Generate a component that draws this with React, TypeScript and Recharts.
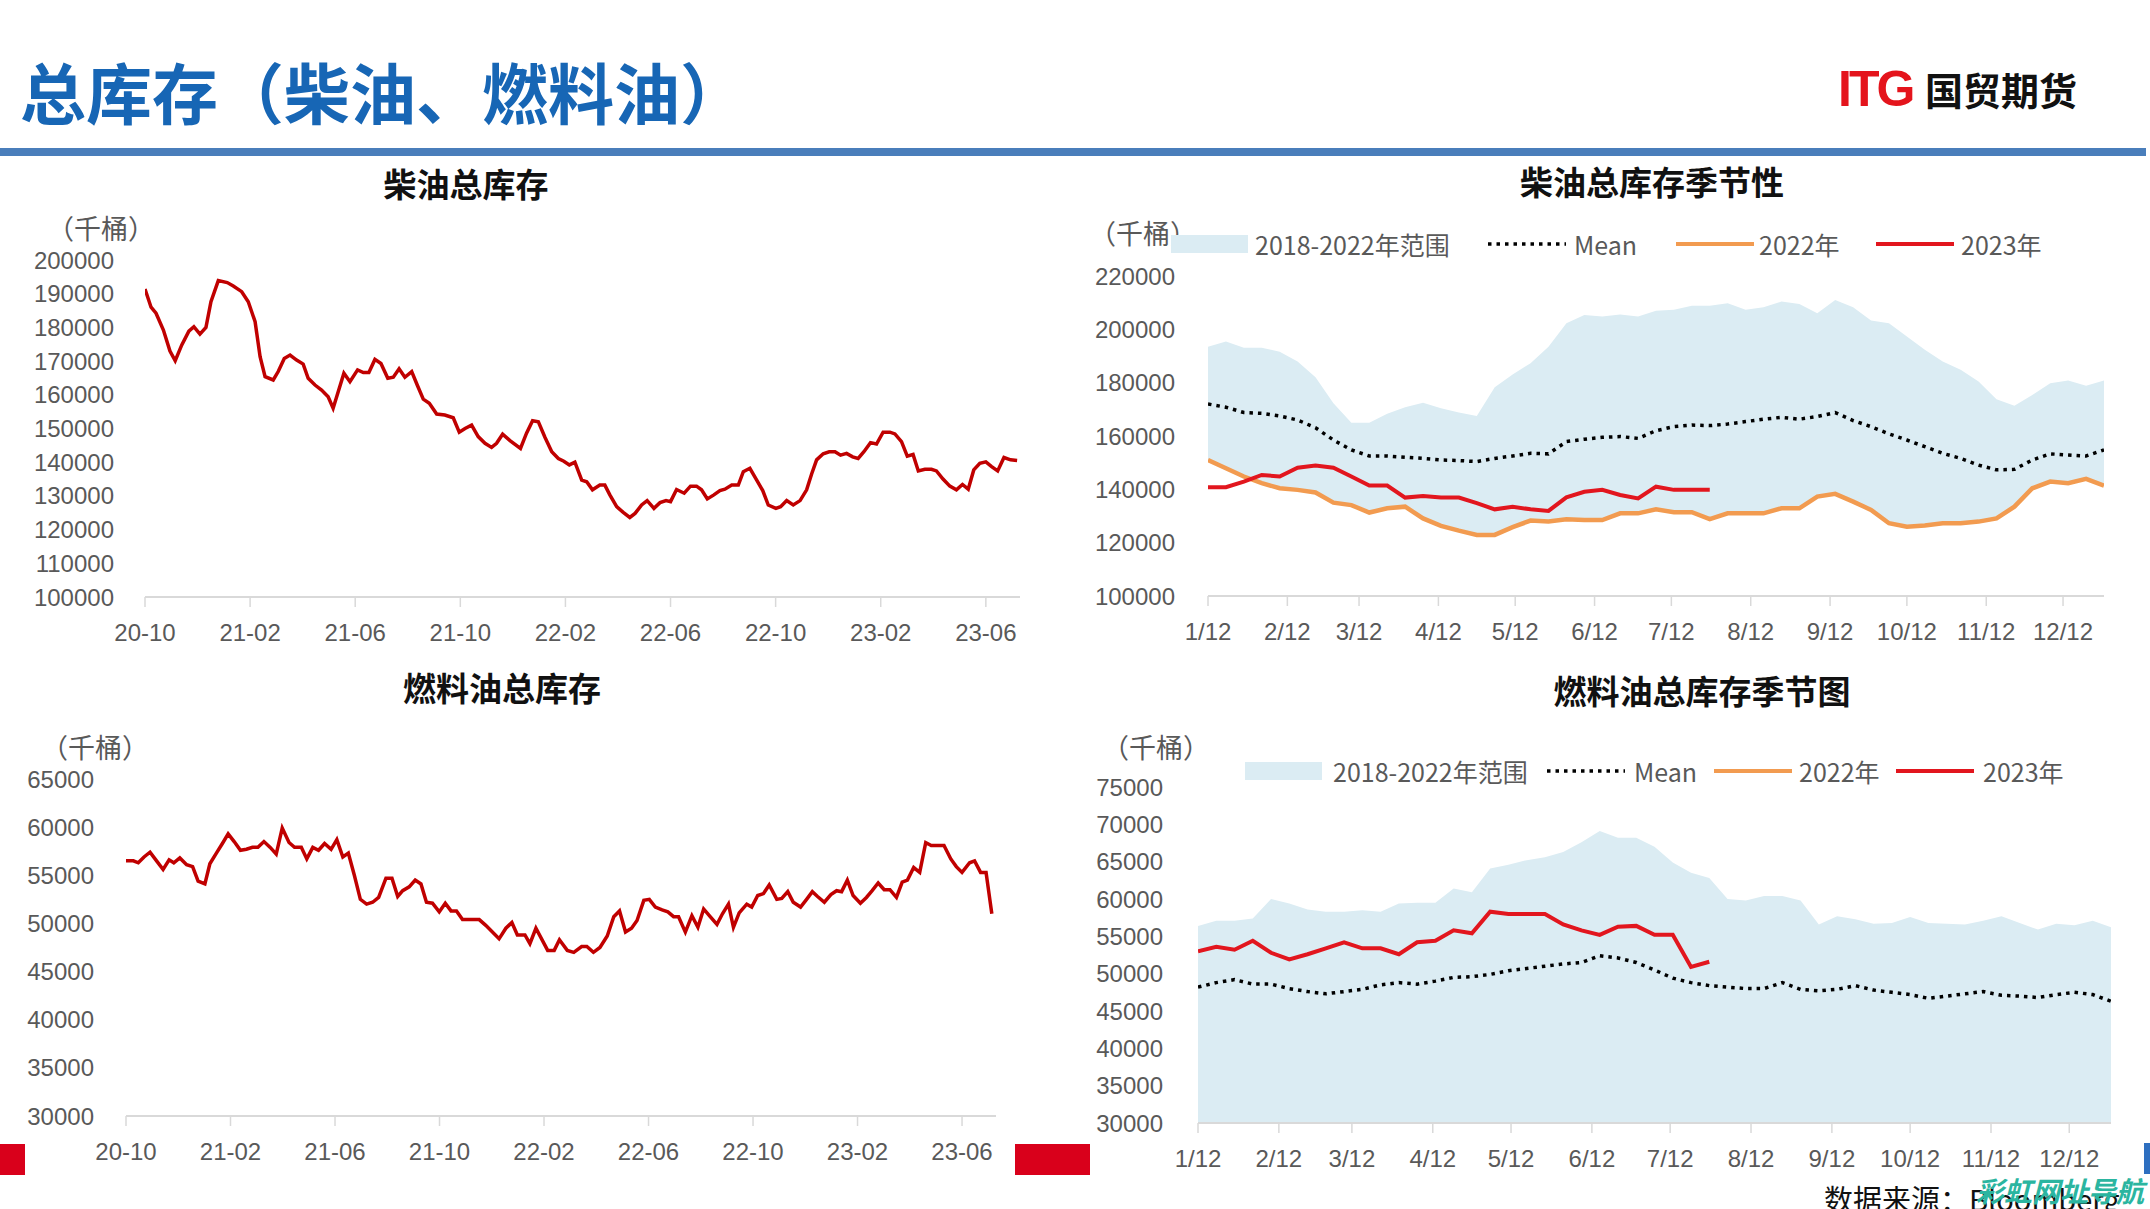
import React from 'react';
import { LineChart, ComposedChart, Line, Area, XAxis, YAxis } from 'recharts';

// 柴油总库存 (千桶), x = months since 2020-10
const dieselMonths = [
  0, 0.23, 0.42, 0.7, 0.95, 1.15, 1.4, 1.67, 1.86, 2.09,
  2.32, 2.51, 2.79, 3.13, 3.36, 3.68, 3.93, 4.19, 4.38, 4.57,
  4.88, 5.07, 5.3, 5.52, 5.77, 6.02, 6.21, 6.47, 6.72, 6.97,
  7.16, 7.57, 7.8, 8.09, 8.31, 8.52, 8.75, 8.98, 9.24, 9.45,
  9.67, 9.89, 10.15, 10.36, 10.59, 10.82, 11.1, 11.41, 11.73, 11.96,
  12.18, 12.43, 12.68, 12.94, 13.19, 13.38, 13.61, 13.89, 14.29, 14.52,
  14.75, 14.97, 15.22, 15.48, 15.73, 15.94, 16.15, 16.36,
  16.62, 16.81, 17.03, 17.31, 17.5, 17.69, 17.95, 18.2, 18.45, 18.65,
  18.9, 19.11, 19.37, 19.6, 19.83, 20.0, 20.23, 20.52, 20.76, 20.99,
  21.18, 21.4, 21.65, 21.88, 22.07, 22.33, 22.58, 22.77, 23.02, 23.28,
  23.51, 23.72, 24.01, 24.19, 24.42, 24.67, 24.93, 25.18, 25.37, 25.56,
  25.81, 26.04, 26.26, 26.47, 26.7, 26.93, 27.14, 27.36, 27.61, 27.84,
  28.09, 28.35, 28.54, 28.79, 29.01, 29.23, 29.43, 29.68, 29.93, 30.12,
  30.37, 30.63, 30.88, 31.11, 31.33, 31.54, 31.77, 32.0, 32.22, 32.45,
  32.69, 32.94, 33.19,
];
const dieselStock = [
  191400, 186000, 184200, 179200, 173000, 170100, 174800, 178900, 180200, 178000,
  180000, 187600, 193900, 193300, 192300, 190600, 187600, 181700, 171300, 165400,
  164400, 166900, 170800, 171800, 170300, 169100, 164900, 162900, 161400, 159400,
  156000, 166400, 163900, 167400, 166600, 166600, 170500, 169300, 164900, 165200,
  167700, 165200, 166900, 162900, 158700, 157500, 154300, 154000, 153200, 148900,
  150000, 151000, 147600, 145600, 144400, 145600, 148300, 146400, 144100, 148600,
  152300, 152000, 147400, 143100, 141100, 140300, 139200, 140000,
  134700, 134200, 131800, 133200, 133200, 130300, 126800, 125100, 123600, 124800,
  127300, 128600, 126300, 128000, 128600, 128300, 131900, 130800, 132900, 132900,
  131800, 129100, 130300, 131600, 132000, 133200, 133200, 137200, 138200, 134700,
  131600, 127300, 126300, 126800, 128600, 127300, 128600, 131800, 136500, 140700,
  142500, 143100, 143100, 142100, 142600, 141600, 141100, 143100, 145800, 145400,
  148900, 148900, 148400, 146100, 141800, 142300, 137400, 137900, 137900, 137400,
  135000, 132900, 131800, 133400, 132000, 137700, 139700, 140100, 138700, 137400,
  141400, 140700, 140500,
];

// 燃料油总库存 (千桶), x = months since 2020-10
const fuelMonths = [
  0, 0.28, 0.47, 0.69, 0.92, 1.17, 1.42, 1.65, 1.83, 2.06,
  2.32, 2.55, 2.76, 3.02, 3.21, 3.46, 3.69, 3.91, 4.14, 4.38,
  4.61, 4.84, 5.05, 5.28, 5.52, 5.75, 5.98, 6.24, 6.45, 6.71,
  6.92, 7.15, 7.37, 7.6, 7.85, 8.07, 8.3, 8.51, 8.74, 8.97,
  9.21, 9.44, 9.67, 9.95, 10.18, 10.4, 10.59, 10.84, 11.07, 11.29,
  11.5, 11.73, 11.99, 12.22, 12.44, 12.65, 12.88, 13.52, 13.77, 14.28,
  14.54, 14.77, 14.98, 15.27, 15.46, 15.69, 16.14, 16.39, 16.59, 16.89,
  17.14, 17.44, 17.64, 17.89, 18.14, 18.42, 18.67, 18.89, 19.12, 19.35,
  19.56, 19.82, 20.03, 20.26, 20.52, 20.74, 20.96, 21.15, 21.41, 21.66,
  21.89, 22.11, 22.36, 22.62, 22.83, 23.06, 23.25, 23.47, 23.76, 23.95,
  24.18, 24.4, 24.62, 24.91, 25.1, 25.33, 25.54, 25.82, 26.05, 26.27,
  26.47, 26.73, 26.98, 27.2, 27.39, 27.61, 27.83, 28.11, 28.34, 28.56,
  28.79, 29.02, 29.24, 29.49, 29.71, 29.91, 30.15, 30.38, 30.61, 30.82,
  31.31, 31.57, 31.78, 32.0, 32.29, 32.48, 32.71, 32.92, 33.14,
];
const fuelStock = [
  56500, 56500, 56300, 56900, 57400, 56500, 55600, 56600, 56300, 56800,
  56100, 55900, 54400, 54100, 56200, 57300, 58300, 59300, 58500, 57600,
  57700, 57900, 57900, 58500, 57900, 57200, 59900, 58400, 57900, 57900,
  56700, 57900, 57600, 58300, 57700, 58700, 56900, 57300, 55000, 52500,
  52000, 52200, 52700, 54700, 54700, 52800, 53400, 53800, 54500, 54100,
  52200, 52100, 51200, 52100, 51300, 51300, 50400, 50400, 49800, 48400,
  49500, 50100, 48800, 48800, 47900, 49500, 47200, 47200, 48300, 47200,
  47000, 47600, 47600, 47000, 47500, 48700, 50700, 51300, 49100, 49500,
  50300, 52400, 52500, 51700, 51400, 51200, 50700, 50700, 49100, 50800,
  49600, 51500, 50700, 49900, 51000, 52000, 49600, 51100, 52000, 51700,
  52900, 53100, 54000, 52500, 52600, 53300, 52200, 51700, 52500, 53300,
  52800, 52200, 53000, 53400, 53300, 54500, 52900, 52100, 52700, 53400,
  54200, 53500, 53500, 52700, 54300, 54500, 55800, 55300, 58400, 58100,
  58100, 56700, 55900, 55300, 56300, 56500, 55300, 55300, 51000,
];

const histTicks = [0, 4, 8, 12, 16, 20, 24, 28, 32];
const histTickLabels = ['20-10', '21-02', '21-06', '21-10', '22-02', '22-06', '22-10', '23-02', '23-06'];

// seasonal charts: x = day of year, weekly
const weekDays = [
  12, 19, 26, 33, 40, 47, 54, 61, 68, 75, 82, 89, 96, 103, 110, 117, 124, 131, 138, 145,
  152, 159, 166, 173, 180, 187, 194, 201, 208, 215, 222, 229, 236, 243, 250, 257, 264, 271, 278, 285,
  292, 299, 306, 313, 320, 327, 334, 341, 348, 355, 362,
];
const seasonTickDays = [12, 43, 71, 102, 132, 163, 193, 224, 255, 285, 316, 346];
const seasonTickLabels = ['1/12', '2/12', '3/12', '4/12', '5/12', '6/12', '7/12', '8/12', '9/12', '10/12', '11/12', '12/12'];

const dieselRangeHigh = [
  193500, 195400, 193100, 193100, 191600, 187900, 182000, 172300, 165000, 165000,
  168300, 170800, 172500, 170400, 168800, 167500, 178300, 183100, 187300, 193500,
  202300, 205400, 204800, 205600, 204800, 207000, 207300, 208800, 208800, 209800,
  207300, 208300, 210400, 209500, 206000, 211000, 208300, 203300, 202300, 197300,
  192300, 187900, 184800, 180400, 173800, 171300, 175400, 179800, 180800, 178800, 180800,
];
const dieselRangeLow = [
  151000, 147900, 144800, 142300, 140400, 139800, 138800, 135000, 134100, 131300,
  132900, 133500, 129100, 126300, 124500, 122900, 122900, 125800, 128300, 127900,
  128800, 128500, 128500, 131000, 131000, 132500, 131400, 131400, 128800, 131000,
  131000, 131000, 132900, 132900, 137300, 138300, 135400, 132300, 127300, 126000,
  126400, 127300, 127300, 127900, 129100, 133500, 140400, 142900, 142300, 143900, 141400,
];
const dieselMean = [
  172000, 170800, 168800, 168500, 167500, 166000, 163100, 158500, 154800, 152500,
  152500, 152000, 151600, 151000, 150800, 150400, 151600, 152500, 153500, 153300,
  157900, 158800, 159500, 159800, 159100, 162000, 163500, 164100, 163900, 164500,
  165400, 166300, 167000, 166300, 167300, 168800, 165800, 163500, 160800, 158500,
  156000, 153500, 151600, 149100, 147300, 147500, 151000, 153300, 152900, 152500, 154800,
];
const diesel2022 = [
  151000, 147900, 144800, 142300, 140400, 139800, 138800, 135000, 134100, 131300,
  132900, 133500, 129100, 126300, 124500, 122900, 122900, 125800, 128300, 127900,
  128800, 128500, 128500, 131000, 131000, 132500, 131400, 131400, 128800, 131000,
  131000, 131000, 132900, 132900, 137300, 138300, 135400, 132300, 127300, 126000,
  126400, 127300, 127300, 127900, 129100, 133500, 140400, 142900, 142300, 143900, 141400,
];
const diesel2023 = [
  140800, 140800, 142900, 145400, 144800, 148100, 148900, 148100, 144800, 141400,
  141400, 136900, 137500, 136900, 136900, 134800, 132500, 133500, 132500, 131900,
  137000, 139100, 139800, 137900, 136600, 141000, 139800, 139800, 139800,
];

const fuelRangeHigh = [
  56400, 57100, 57100, 57400, 60000, 59400, 58600, 58300, 58300, 58500,
  58300, 59400, 59500, 59500, 61400, 60900, 64100, 64600, 65200, 65600,
  66300, 67600, 69100, 68200, 68200, 67000, 64900, 63500, 62800, 60000,
  59800, 60400, 60400, 59800, 56600, 57700, 57300, 56700, 56800, 57600,
  56800, 56700, 56600, 57100, 57700, 56800, 55900, 56700, 56500, 57100, 56200,
];
const fuelMean = [
  48200, 48800, 49200, 48600, 48600, 48000, 47600, 47300, 47600, 47900,
  48500, 48800, 48600, 49000, 49500, 49600, 49900, 50400, 50700, 51000,
  51300, 51500, 52400, 52100, 51500, 50500, 49400, 48800, 48400, 48200,
  48000, 48000, 48800, 47900, 47700, 47900, 48400, 47800, 47500, 47200,
  46700, 47000, 47300, 47600, 47100, 47000, 46800, 47200, 47500, 47200, 46300,
];
const fuel2023 = [
  53000, 53600, 53200, 54400, 52800, 51900, 52600, 53400, 54200, 53400,
  53400, 52600, 54200, 54400, 55800, 55400, 58300, 58000, 58000, 58000,
  56600, 55800, 55200, 56300, 56400, 55200, 55200, 50900, 51600,
];

const dieselData = dieselMonths.map((m, i) => ({ m, v: dieselStock[i] }));
const fuelData = fuelMonths.map((m, i) => ({ m, v: fuelStock[i] }));
const dieselSeason = weekDays.map((day, i) => ({
  day,
  range: [dieselRangeLow[i], dieselRangeHigh[i]],
  mean: dieselMean[i],
  y2022: diesel2022[i],
  y2023: diesel2023[i],
}));
const fuelSeason = weekDays.map((day, i) => ({
  day,
  high: fuelRangeHigh[i],
  mean: fuelMean[i],
  y2023: fuel2023[i],
}));

const CJK = '"Noto Sans CJK SC", "Noto Sans", sans-serif';
const LATIN = '"Liberation Sans", Arial, sans-serif';
const GRAY = '#595959';
const AXIS = '#d9d9d9';
const BAND = '#dbecf3';
const ORANGE = '#f29b50';
const RED23 = '#e2161e';
const tickStyle = { fontSize: 24, fill: GRAY, fontFamily: LATIN };

const Label = ({ x, y, size, color = '#000', weight = 400, align = 'left', family = CJK, children }: any) => (
  <div
    style={{
      position: 'absolute',
      left: x,
      top: y,
      transform: `translate(${align === 'center' ? '-50%' : align === 'right' ? '-100%' : '0'}, -50%)`,
      fontSize: size,
      color,
      fontWeight: weight,
      fontFamily: family,
      lineHeight: 1,
      whiteSpace: 'nowrap',
    }}
  >
    {children}
  </div>
);

const Swatch = ({ x, y, kind }: { x: number; y: number; kind: string }) => {
  if (kind === 'band') {
    return <div style={{ position: 'absolute', left: x, top: y - 9, width: 77, height: 18, background: BAND }} />;
  }
  const stroke = kind === 'mean' ? '#000' : kind === 'y2022' ? ORANGE : RED23;
  return (
    <svg style={{ position: 'absolute', left: x, top: y - 6 }} width={78} height={12}>
      <line
        x1={0}
        x2={78}
        y1={6}
        y2={6}
        stroke={stroke}
        strokeWidth={kind === 'mean' ? 3.5 : 4}
        strokeDasharray={kind === 'mean' ? '3.5 5' : undefined}
      />
    </svg>
  );
};

const SeasonLegend = ({ y, xs }: { y: number; xs: number[] }) => (
  <>
    <Swatch x={xs[0]} y={y} kind="band" />
    <Label x={xs[1]} y={y} size={25} color={GRAY}>2018-2022年范围</Label>
    <Swatch x={xs[2]} y={y} kind="mean" />
    <Label x={xs[3]} y={y} size={25} color={GRAY}>Mean</Label>
    <Swatch x={xs[4]} y={y} kind="y2022" />
    <Label x={xs[5]} y={y} size={25} color={GRAY}>2022年</Label>
    <Swatch x={xs[6]} y={y} kind="y2023" />
    <Label x={xs[7]} y={y} size={25} color={GRAY}>2023年</Label>
  </>
);

const histX = (height: number) => (
  <XAxis
    type="number"
    dataKey="m"
    domain={[0, 33.3]}
    ticks={histTicks}
    interval={0}
    allowDataOverflow
    tickFormatter={(v: number) => histTickLabels[histTicks.indexOf(v)]}
    height={height}
    axisLine={{ stroke: AXIS, strokeWidth: 2 }}
    tickLine={{ stroke: AXIS, strokeWidth: 1.5 }}
    tickSize={10}
    tickMargin={17}
    tick={tickStyle}
  />
);

const seasonX = (
  <XAxis
    type="number"
    dataKey="day"
    domain={[12, 362]}
    ticks={seasonTickDays}
    interval={0}
    allowDataOverflow
    tickFormatter={(v: number) => seasonTickLabels[seasonTickDays.indexOf(v)]}
    height={60}
    axisLine={{ stroke: AXIS, strokeWidth: 2 }}
    tickLine={{ stroke: AXIS, strokeWidth: 1.5 }}
    tickSize={10}
    tickMargin={17}
    tick={tickStyle}
  />
);

export default function App() {
  return (
    <div
      style={{
        position: 'absolute',
        left: 0,
        top: 0,
        width: 2150,
        height: 1209,
        background: '#fff',
        overflow: 'hidden',
        fontFamily: CJK,
      }}
    >
      {/* header */}
      <Label x={20} y={90} size={66} weight={700} color="#1766b5">总库存（柴油、燃料油）</Label>
      <Label x={1838} y={89} size={50} weight={700} color="#e4141c" family={LATIN}>
        <span style={{ letterSpacing: -3 }}>ITG</span>
      </Label>
      <Label x={1925} y={89} size={38} weight={700} color="#111">国贸期货</Label>
      <div style={{ position: 'absolute', left: 0, top: 148, width: 2146, height: 8, background: '#4a7ebb' }} />

      {/* top left */}
      <Label x={466} y={183} size={33} weight={700} color="#111" align="center">柴油总库存</Label>
      <Label x={47} y={227} size={27} color={GRAY}>（千桶）</Label>
      <div style={{ position: 'absolute', left: 30, top: 240 }}>
        <LineChart width={1000} height={422} data={dieselData} margin={{ top: 20, right: 10, bottom: 5, left: 0 }}>
          {histX(60)}
          <YAxis
            type="number"
            domain={[100000, 200000]}
            ticks={[100000, 110000, 120000, 130000, 140000, 150000, 160000, 170000, 180000, 190000, 200000]}
            interval={0}
            width={115}
            axisLine={false}
            tickLine={false}
            tickSize={0}
            tickMargin={31}
            tick={tickStyle}
          />
          <Line type="linear" dataKey="v" stroke="#c00000" strokeWidth={3.5} dot={false} isAnimationActive={false} />
        </LineChart>
      </div>

      {/* top right */}
      <Label x={1652} y={181} size={33} weight={700} color="#111" align="center">柴油总库存季节性</Label>
      <Label x={1089} y={232} size={27} color={GRAY}>（千桶）</Label>
      <SeasonLegend y={244} xs={[1171, 1255, 1488, 1574, 1676, 1759, 1876, 1961]} />
      <div style={{ position: 'absolute', left: 1090, top: 256 }}>
        <ComposedChart width={1024} height={405} data={dieselSeason} margin={{ top: 20, right: 10, bottom: 5, left: 0 }}>
          {seasonX}
          <YAxis
            type="number"
            domain={[100000, 220000]}
            ticks={[100000, 120000, 140000, 160000, 180000, 200000, 220000]}
            interval={0}
            width={118}
            axisLine={false}
            tickLine={false}
            tickSize={0}
            tickMargin={33}
            tick={tickStyle}
          />
          <Area type="linear" dataKey="range" fill={BAND} fillOpacity={1} stroke="none" isAnimationActive={false} />
          <Line type="linear" dataKey="mean" stroke="#000" strokeWidth={3.5} strokeDasharray="3.5 5" dot={false} isAnimationActive={false} />
          <Line type="linear" dataKey="y2022" stroke={ORANGE} strokeWidth={4.5} dot={false} isAnimationActive={false} />
          <Line type="linear" dataKey="y2023" stroke={RED23} strokeWidth={4} dot={false} isAnimationActive={false} />
        </ComposedChart>
      </div>

      {/* bottom left */}
      <Label x={502} y={687} size={33} weight={700} color="#111" align="center">燃料油总库存</Label>
      <Label x={41} y={746} size={27} color={GRAY}>（千桶）</Label>
      <div style={{ position: 'absolute', left: 10, top: 759 }}>
        <LineChart width={996} height={422} data={fuelData} margin={{ top: 20, right: 10, bottom: 5, left: 0 }}>
          {histX(60)}
          <YAxis
            type="number"
            domain={[30000, 65000]}
            ticks={[30000, 35000, 40000, 45000, 50000, 55000, 60000, 65000]}
            interval={0}
            width={116}
            axisLine={false}
            tickLine={false}
            tickSize={0}
            tickMargin={32}
            tick={tickStyle}
          />
          <Line type="linear" dataKey="v" stroke="#c00000" strokeWidth={3.5} dot={false} isAnimationActive={false} />
        </LineChart>
      </div>

      {/* bottom right */}
      <Label x={1702} y={690} size={33} weight={700} color="#111" align="center">燃料油总库存季节图</Label>
      <Label x={1102} y={746} size={27} color={GRAY}>（千桶）</Label>
      <SeasonLegend y={771} xs={[1245, 1333, 1547, 1634, 1714, 1799, 1896, 1983]} />
      <div style={{ position: 'absolute', left: 1080, top: 767 }}>
        <ComposedChart width={1041} height={421} data={fuelSeason} margin={{ top: 20, right: 10, bottom: 5, left: 0 }}>
          {seasonX}
          <YAxis
            type="number"
            domain={[30000, 75000]}
            ticks={[30000, 35000, 40000, 45000, 50000, 55000, 60000, 65000, 70000, 75000]}
            interval={0}
            width={118}
            axisLine={false}
            tickLine={false}
            tickSize={0}
            tickMargin={35}
            tick={tickStyle}
          />
          <Area type="linear" dataKey="high" fill={BAND} fillOpacity={1} stroke="none" isAnimationActive={false} />
          <Line type="linear" dataKey="mean" stroke="#000" strokeWidth={3.5} strokeDasharray="3.5 5" dot={false} isAnimationActive={false} />
          <Line type="linear" dataKey="y2023" stroke={RED23} strokeWidth={4} dot={false} isAnimationActive={false} />
        </ComposedChart>
      </div>

      {/* footer */}
      <div style={{ position: 'absolute', left: 0, top: 1144, width: 25, height: 31, background: '#d9001b' }} />
      <div style={{ position: 'absolute', left: 1015, top: 1144, width: 75, height: 31, background: '#d9001b' }} />
      <div style={{ position: 'absolute', left: 2144, top: 1143, width: 6, height: 31, background: '#2e6fc0' }} />
      <Label x={1824} y={1198} size={29} color="#111">数据来源：Bloomberg</Label>
      <Label x={1976} y={1190} size={28} weight={700} color="#2bb5a0">
        <span style={{ fontStyle: 'italic' }}>彩虹网址导航</span>
      </Label>
    </div>
  );
}
